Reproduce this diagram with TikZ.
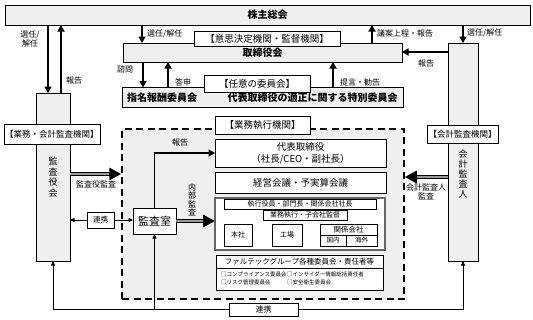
\documentclass[tikz,border=0pt]{standalone}
\usepackage{fontspec}
\setmainfont{Noto Sans CJK JP}
\usetikzlibrary{arrows.meta}
\definecolor{panel}{HTML}{EFEFEF}

\begin{document}
\begin{tikzpicture}[x=1pt,y=-1pt,
  box/.style={draw, line width=0.8pt, fill=white, inner sep=0pt, outer sep=0pt, align=center},
  pbox/.style={box, fill=panel},
  tag/.style={box, font=\fontsize{9.5}{11}\selectfont},
  lbl/.style={font=\fontsize{8}{9}\selectfont, align=center, inner sep=0pt},
  arr/.style={line width=1.8pt, -{Triangle[width=7pt,length=6.5pt]}},
  linkarr/.style={line width=0.7pt, -{Triangle[width=4pt,length=4.5pt]}},
  fat/.style={line width=4pt, -{Triangle[width=12pt,length=12pt]}},
  fatcore/.style={draw=black!40, line width=1.4pt, shorten >=12pt}]
  \useasboundingbox (0,0) rectangle (533,319);

  % top level
  \node[pbox, minimum width=525pt, minimum height=20pt, font=\bfseries\fontsize{10}{12}\selectfont] (share) at (267.5,15) {株主総会};
  \node[pbox, minimum width=279pt, minimum height=19pt, font=\bfseries\fontsize{10}{12}\selectfont] (board) at (262.5,52.5) {取締役会};
  \node[tag, minimum width=146pt, minimum height=15pt] (decision) at (267,38.5) {【意思決定機関・監督機関】};

  \node[pbox, minimum width=281pt, minimum height=20pt] (cmte) at (262.5,97.5) {};
  \node[font=\bfseries\fontsize{10}{12}\selectfont] (nomination) at (162,98) {指名報酬委員会};
  \node[font=\bfseries\fontsize{10}{12}\selectfont] (special) at (312.5,98) {代表取締役の適正に関する特別委員会};
  \node[tag, minimum width=106pt, minimum height=17pt] (optional) at (257,83.5) {【任意の委員会】};

  % auditors
  \node[pbox, minimum width=34pt, minimum height=168pt, font=\fontsize{9}{10.5}\selectfont] (kansa) at (53,177) {監\\査\\役\\会};
  \node[tag, minimum width=96pt, minimum height=20pt, font=\fontsize{8.5}{10}\selectfont] (audittag) at (52,134) {【業務・会計監査機関】};
  \node[pbox, minimum width=30pt, minimum height=218pt] (kaikei) at (463,152) {};
  \node[align=center, font=\fontsize{9}{10}\selectfont] (kaikeitxt) at (463,174) {会\\計\\監\\査\\人};
  \node[tag, minimum width=71pt, minimum height=18pt, font=\fontsize{8.5}{10}\selectfont] (acctag) at (462.5,134) {【会計監査機関】};

  % execution
  \node[draw, line width=1.5pt, dash pattern=on 7pt off 4.5pt, fill=panel, minimum width=282pt, minimum height=170pt, inner sep=0pt] (exec) at (263,214) {};
  \node[tag, minimum width=95pt, minimum height=18pt] (exectag) at (262.5,125) {【業務執行機関】};
  \node[box, minimum width=171pt, minimum height=28pt, font=\fontsize{9.5}{12}\selectfont] (ceo) at (300.5,153) {代表取締役\\（社長/CEO・副社長）};
  \node[box, minimum width=171pt, minimum height=21pt, font=\fontsize{9.5}{12}\selectfont] (mgmt) at (300.5,182.5) {経営会議・予実算会議};
  \node[box, draw=black!60, line width=1.6pt, minimum width=170pt, minimum height=52pt] (ops) at (300,224) {};
  \node[box, minimum width=152pt, minimum height=10pt, font=\fontsize{7}{8}\selectfont] (officers) at (300,204) {執行役員・部門長・関係会社社長};
  \node[box, minimum width=84pt, minimum height=10pt, font=\fontsize{7}{8}\selectfont] (business) at (305,215) {業務執行・子会社監督};
  \node[box, minimum width=28pt, minimum height=22pt, font=\fontsize{7}{8}\selectfont] (honsha) at (238,235) {本社};
  \node[box, minimum width=30pt, minimum height=22pt, font=\fontsize{7}{8}\selectfont] (factory) at (287,235) {工場};
  \node[box, minimum width=57pt, minimum height=11pt, font=\fontsize{7.5}{8}\selectfont] (affil) at (348.5,229.5) {関係会社};
  \node[box, minimum width=26pt, minimum height=11pt, font=\fontsize{6.5}{8}\selectfont] (domestic) at (333,240.5) {国内};
  \node[box, minimum width=31pt, minimum height=11pt, font=\fontsize{6.5}{8}\selectfont] (overseas) at (361.5,240.5) {海外};

  \node[box, minimum width=167pt, minimum height=35pt] (group) at (299.5,273) {};
  \node[font=\fontsize{7.5}{9}\selectfont, inner sep=0pt] (grouphead) at (299.5,262) {ファルテックグループ各種委員会・責任者等};
  \draw[line width=0.8pt] (group.west |- 0,268) -- (group.east |- 0,268);
  \node[anchor=west, font=\fontsize{5.5}{8}\selectfont, align=left, inner sep=0pt] (itemsa) at (221,278.5) {□コンプライアンス委員会\\□リスク管理委員会};
  \node[anchor=west, font=\fontsize{5.5}{8}\selectfont, align=left, inner sep=0pt] (itemsb) at (287,278.5) {□インサイダー情報総括責任者\\□安全衛生委員会};

  \node[box, minimum width=43pt, minimum height=26pt, font=\fontsize{11}{13}\selectfont] (office) at (154.5,221) {監査室};
  \node[box, minimum width=27pt, minimum height=16pt, font=\fontsize{7.5}{9}\selectfont] (link) at (100.5,220) {連携};
  \node[box, minimum width=69pt, minimum height=13pt, font=\fontsize{8}{9}\selectfont] (linkb) at (263.5,309.5) {連携};

  % arrows between bodies
  \draw[arr] (share.south -| 48,0) -- (kansa.north -| 48,0);
  \draw[arr] (kansa.north -| 61,0) -- (share.south -| 61,0);
  \draw[arr] (share.south -| 142,0) -- (board.north -| 142,0);
  \draw[arr] (board.north -| 372,0) -- (share.south -| 372,0);
  \draw[arr] (share.south -| kaikei.north) -- (kaikei.north);
  \draw[arr] (kaikei.west |- 0,52) -- (board.east |- 0,52);
  \draw[arr] (board.south -| 143,0) -- (cmte.north -| 143,0);
  \draw[arr] (cmte.north -| 168,0) -- (board.south -| 168,0);
  \draw[arr] (cmte.north -| 333,0) -- (board.south -| 333,0);
  \draw[arr] (office.north) |- (ceo.west);

  \draw[fat] (kansa.east |- 0,174) -- (exec.west |- 0,174);
  \draw[fatcore] (kansa.east |- 0,174) -- (exec.west |- 0,174);
  \draw[fat] (kaikei.west |- 0,177) -- (exec.east |- 0,177);
  \draw[fatcore] (kaikei.west |- 0,177) -- (exec.east |- 0,177);
  \draw[fat] (office.east) -- (office.east -| ops.west);
  \draw[fatcore] (office.east) -- (office.east -| ops.west);

  \draw[linkarr] (link.west) -- (link.west -| kansa.east);
  \draw[linkarr] (link.east) -- (link.east -| office.west);
  \draw[linkarr] (linkb.west) -| (kansa.south);
  \draw[linkarr] (linkb.east) -| (kaikei.south);
  \draw[linkarr] (linkb.west -| office.south) -- (office.south);

  % labels
  \node[lbl] (lsel1) at (30,39) {選任/\\解任};
  \node[lbl] (lrep1) at (74,80) {報告};
  \node[lbl, anchor=west] (lsel2) at (147,34) {選任/解任};
  \node[lbl, anchor=west] (lagenda) at (377,33) {議案上程・報告};
  \node[lbl, anchor=west] (lsel3) at (467,33) {選任/解任};
  \node[lbl] (lrep2) at (426,63) {報告};
  \node[lbl] (lconsult) at (125,69) {諮問};
  \node[lbl] (lanswer) at (183,82) {答申};
  \node[lbl] (ladvice) at (360,82) {提言・勧告};
  \node[lbl] (lrep3) at (180,142) {報告};
  \node[lbl] (lkansa) at (96,184) {監査役監査};
  \node[lbl] (lkaikei) at (426,192) {会計監査人\\監査};
  \node[lbl, font=\fontsize{8}{8.5}\selectfont] (linternal) at (192,200) {内\\部\\監\\査};
\end{tikzpicture}
\end{document}
